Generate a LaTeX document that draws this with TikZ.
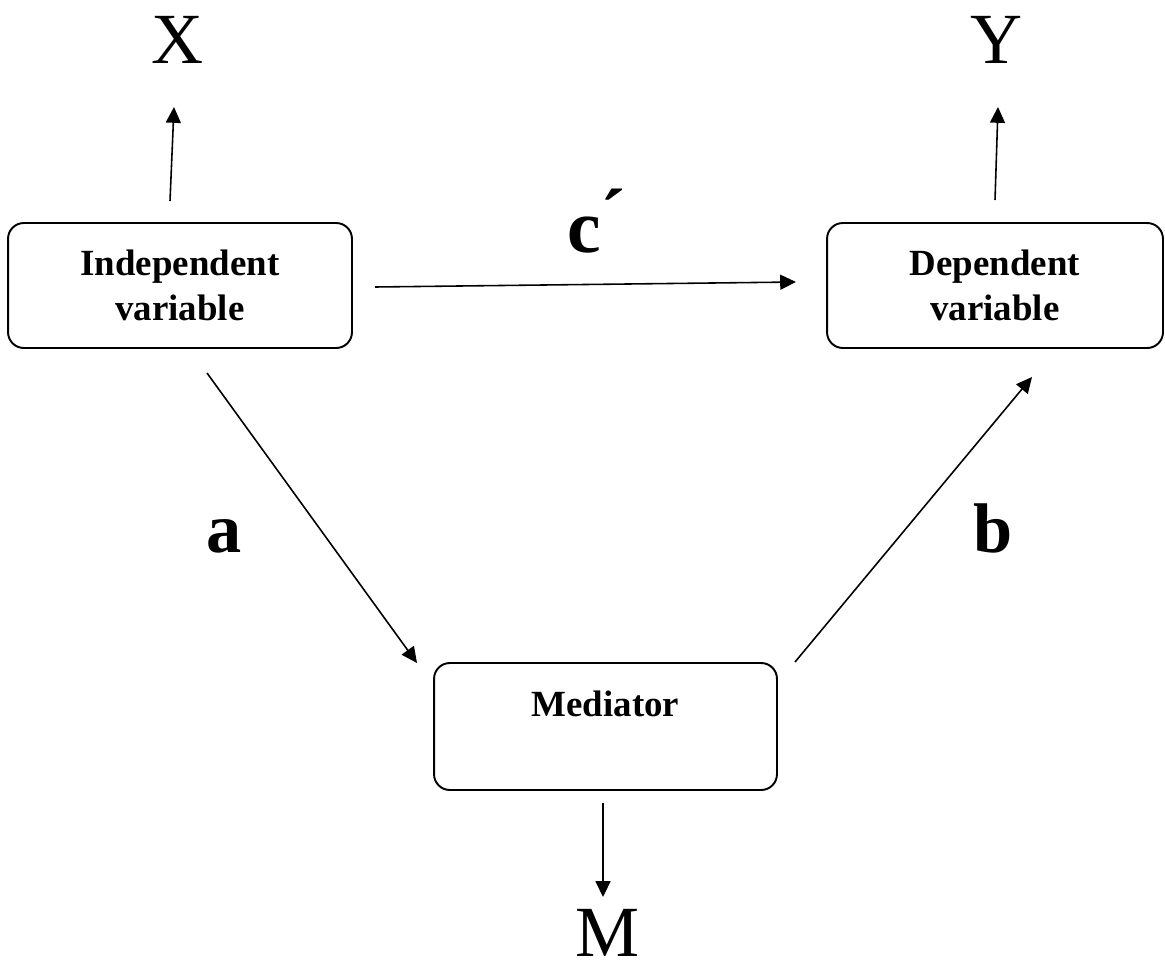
\documentclass[tikz,border=0pt]{standalone}
\usepackage{fontspec}
\setmainfont{Liberation Serif}
\usetikzlibrary{arrows.meta}

\tikzset{
  varbox/.style={draw, line width=1.1pt, rounded corners=9pt, align=center,
    inner sep=0pt, font=\fontsize{21}{25.6}\selectfont\bfseries},
  conn/.style={line width=0.9pt, -{Triangle[length=9pt,width=8.5pt]}},
  letter/.style={anchor=base, inner sep=0pt, font=\fontsize{41}{41}\selectfont},
  coef/.style={anchor=base, inner sep=0pt, font=\fontsize{40}{40}\selectfont\bfseries}
}

\begin{document}
\begin{tikzpicture}[x=0.02cm, y=-0.02cm]
  \useasboundingbox (0,0) rectangle (1165,963);

  \node[varbox, minimum width=6.88cm, minimum height=2.5cm] (iv) at (180,285.5) {Independent\\variable};
  \node[varbox, minimum width=6.72cm, minimum height=2.5cm] (dv) at (995,285.5) {Dependent\\variable};
  \node[varbox, minimum width=6.86cm, minimum height=2.54cm] (med) at (605.5,726.5) {Mediator\\~};

  \node[letter] (X) at (178,64) {X};
  \node[letter] (Y) at (996,64) {Y};
  \node[letter] (M) at (608,956) {M};

  \node[coef] (a) at (224,552) {a};
  \node[coef] (b) at (993,552) {b};
  \node[coef, anchor=base west, font=\fontsize{43}{43}\selectfont\bfseries] (c) at (567,252) {c\raisebox{6pt}{´}};

  \coordinate (ivtop) at (170,201);
  \coordinate (xend) at (174,107);
  \coordinate (dvtop) at (995,200);
  \coordinate (yend) at (998,107);
  \coordinate (medbot) at (603,803);
  \coordinate (mend) at (603,897);
  \coordinate (ivright) at (375,287);
  \coordinate (dvleft) at (796,282);
  \coordinate (ivbot) at (207,373);
  \coordinate (medleft) at (417,663);
  \coordinate (medright) at (795,662);
  \coordinate (dvbot) at (1032,377);

  \draw[conn] (ivtop) -- (xend);
  \draw[conn] (dvtop) -- (yend);
  \draw[conn] (medbot) -- (mend);
  \draw[conn] (ivright) -- (dvleft);
  \draw[conn] (ivbot) -- (medleft);
  \draw[conn] (medright) -- (dvbot);
\end{tikzpicture}
\end{document}
